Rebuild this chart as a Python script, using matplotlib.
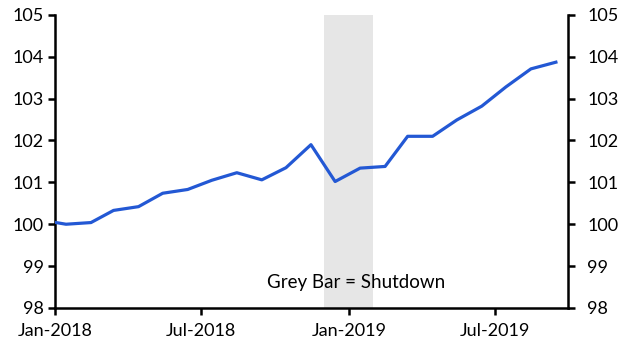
import pandas as pd
import matplotlib.pyplot as plt

plt.rcParams['font.family'] = ['Lato', 'DejaVu Sans']

# monthly index values (plotted mid-month), Dec-2017 .. Sep-2019
months = pd.date_range('2017-12-01', periods=22, freq='MS') + pd.Timedelta(days=14)
values = [100.1, 100.0, 100.04, 100.33, 100.42, 100.74, 100.83, 101.05, 101.23,
          101.06, 101.35, 101.9, 101.02, 101.34, 101.38, 102.1, 102.1, 102.49,
          102.82, 103.28, 103.71, 103.87]

shutdown_start = pd.Timestamp('2018-12-01')
shutdown_end = pd.Timestamp('2019-01-31')

tick_dates = pd.to_datetime(['2018-01-01', '2018-07-01', '2019-01-01', '2019-07-01'])
tick_labels = ['Jan-2018', 'Jul-2018', 'Jan-2019', 'Jul-2019']

fig = plt.figure(figsize=(6.29, 3.54), dpi=100)
ax = fig.add_axes([0.087, 0.13, 0.816, 0.828])

ax.axvspan(shutdown_start, shutdown_end, color='#e6e6e6', lw=0, zorder=0)
ax.plot(months, values, color='#2358d4', lw=2.3, zorder=3)

ax.set_xlim(pd.Timestamp('2018-01-01'), pd.Timestamp('2019-09-30'))
ax.set_ylim(98, 105)
ax.set_xticks(tick_dates)
ax.set_xticklabels(tick_labels)
ax.set_yticks(range(98, 106))

for s in ['left', 'bottom']:
    ax.spines[s].set_linewidth(1.8)
ax.spines['top'].set_visible(False)
ax.spines['right'].set_visible(False)
ax.tick_params(axis='both', labelsize=13, width=1.8, length=5, direction='out')
ax.tick_params(axis='x', pad=6)
ax.tick_params(axis='y', pad=3)

# right-hand axis, same scale
ax2 = ax.twinx()
ax2.set_ylim(ax.get_ylim())
ax2.set_yticks(range(98, 106))
for s in ['left', 'bottom', 'top']:
    ax2.spines[s].set_visible(False)
ax2.spines['right'].set_linewidth(1.8)
ax2.tick_params(axis='y', labelsize=13, width=1.8, length=5, direction='out', pad=9)

ax.text(pd.Timestamp('2019-01-10'), 98.6, 'Grey Bar = Shutdown', fontsize=13.5,
        ha='center', va='center')

fig.savefig('out.png', dpi=100)
